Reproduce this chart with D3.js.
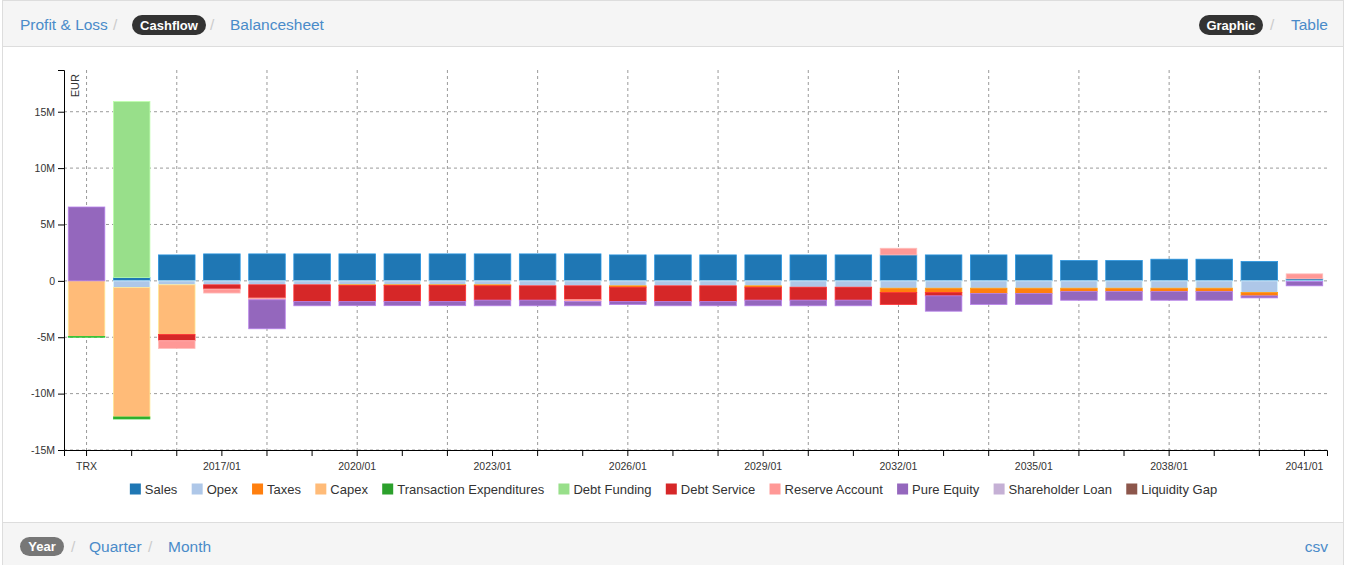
<!DOCTYPE html>
<html>
<head>
<meta charset="utf-8">
<script src="https://cdn.jsdelivr.net/npm/d3@7"></script>
<style>
body { margin: 0; background: #fff; }
svg text { font-family: "Liberation Sans", Arial, sans-serif; }
.grid line { stroke: #9a9a9a; stroke-dasharray: 3,3; }
.axis path, .axis line { stroke: #000; }
.axis text { fill: #333; font-size: 10.5px; }
.nav { font-size: 15.5px; fill: #4a8bc9; }
.sep { font-size: 15.5px; fill: #ccc; }
.pill { font-size: 13px; font-weight: bold; fill: #fff; }
.legend text { font-size: 13px; fill: #333; }
</style>
</head>
<body>
<svg id="chart" width="1345" height="565"></svg>
<script>
// periods on the x axis
const periods = ['TRX', '2015/01', '2016/01', '2017/01', '2018/01', '2019/01', '2020/01',
    '2021/01', '2022/01', '2023/01', '2024/01', '2025/01', '2026/01', '2027/01', '2028/01',
    '2029/01', '2030/01', '2031/01', '2032/01', '2033/01', '2034/01', '2035/01', '2036/01',
    '2037/01', '2038/01', '2039/01', '2040/01', '2041/01']

// values in million EUR, one per period
const sales = [0, 0.3, 2.3, 2.39, 2.39, 2.39, 2.39, 2.39, 2.39, 2.39, 2.39, 2.39, 2.3, 2.3,
    2.3, 2.3, 2.3, 2.3, 2.3, 2.3, 2.3, 2.3, 1.8, 1.8, 1.92, 1.92, 1.71, 0.18]
const opex = [0, -0.6, -0.35, -0.35, -0.35, -0.35, -0.35, -0.35, -0.35, -0.35, -0.44, -0.44,
    -0.44, -0.44, -0.44, -0.44, -0.56, -0.56, -0.65, -0.65, -0.65, -0.65, -0.65, -0.65, -0.65,
    -0.65, -1.03, -0.06]
const taxes = [0, 0, 0, 0, 0, 0, -0.05, -0.05, -0.05, -0.09, 0, 0, -0.12, 0, 0, -0.12, 0, 0,
    -0.38, -0.38, -0.47, -0.47, -0.3, -0.3, -0.3, -0.3, -0.3, 0]
const capex = [-4.93, -11.47, -4.4, 0, 0, 0, 0, 0, 0, 0, 0, 0, 0, 0, 0, 0, 0, 0, 0, 0, 0, 0,
    0, 0, 0, 0, 0, 0]
const transactionExp = [-0.07, -0.18, 0, 0, 0, 0, 0, 0, 0, 0, 0, 0, 0, 0, 0, 0, 0, 0, 0, 0,
    0, 0, 0, 0, 0, 0, 0, 0]
const debtFunding = [0, 15.6, 0, 0, 0, 0, 0, 0, 0, 0, 0, 0, 0, 0, 0, 0, 0, 0, 0, 0, 0, 0, 0,
    0, 0, 0, 0, 0]
const debtService = [0, 0, -0.56, -0.38, -1.18, -1.48, -1.42, -1.42, -1.42, -1.27, -1.27,
    -1.24, -1.27, -1.39, -1.39, -1.15, -1.15, -1.15, -1.06, -0.3, 0, 0, 0, 0, 0, 0, 0, 0]
const reserveAccount = [0, 0, -0.68, -0.35, -0.15, 0, 0, 0, 0, 0, 0, -0.15, 0, 0, 0, 0, 0, 0,
    0.59, 0, 0, 0, 0, 0, 0, 0, 0, 0.44]
const pureEquity = [6.55, 0, 0, 0, -2.57, -0.38, -0.38, -0.38, -0.38, -0.5, -0.5, -0.38,
    -0.27, -0.38, -0.38, -0.5, -0.5, -0.5, 0, -1.36, -0.97, -0.97, -0.77, -0.77, -0.77, -0.77,
    -0.18, -0.38]
const shareholderLoan = [0, 0, 0, 0, 0, 0, 0, 0, 0, 0, 0, 0, 0, 0, 0, 0, 0, 0, 0, 0, 0, 0, 0,
    0, 0, 0, 0, 0]
const liquidityGap = [0, 0, 0, 0, 0, 0, 0, 0, 0, 0, 0, 0, 0, 0, 0, 0, 0, 0, 0, 0, 0, 0, 0, 0,
    0, 0, 0, 0]

const seriesNames = ['Sales', 'Opex', 'Taxes', 'Capex', 'Transaction Expenditures',
    'Debt Funding', 'Debt Service', 'Reserve Account', 'Pure Equity', 'Shareholder Loan',
    'Liquidity Gap']
const seriesValues = [sales, opex, taxes, capex, transactionExp, debtFunding, debtService,
    reserveAccount, pureEquity, shareholderLoan, liquidityGap]
const colors = ['#1f77b4', '#aec7e8', '#ff7f0e', '#ffbb78', '#2ca02c', '#98df8a', '#d62728',
    '#ff9896', '#9467bd', '#c5b0d5', '#8c564b']
const yTicks = [-15e6, -10e6, -5e6, 0, 5e6, 10e6, 15e6]

const svg = d3.select('#chart')
const width = +svg.attr('width')
const height = +svg.attr('height')

// panel frame, header and footer
svg.append('rect').attr('x', 2.5).attr('y', 0.5).attr('width', width - 4).attr('height', height)
    .attr('fill', '#fff').attr('stroke', '#ddd')
svg.append('rect').attr('x', 2.5).attr('y', 0.5).attr('width', width - 4).attr('height', 46)
    .attr('fill', '#f5f5f5').attr('stroke', '#ddd')
svg.append('rect').attr('x', 2.5).attr('y', 522.5).attr('width', width - 4).attr('height', 50)
    .attr('fill', '#f5f5f5').attr('stroke', '#ddd')

function pill(x, y, w, h, label, fill) {
    svg.append('rect').attr('x', x).attr('y', y).attr('width', w).attr('height', h)
        .attr('rx', h / 2).attr('fill', fill)
    svg.append('text').attr('class', 'pill').attr('x', x + w / 2).attr('y', y + h / 2 + 4.5)
        .attr('text-anchor', 'middle').text(label)
}
function nav(x, y, label, anchor) {
    svg.append('text').attr('class', 'nav').attr('x', x).attr('y', y)
        .attr('text-anchor', anchor || 'start').text(label)
}
function sep(x, y) {
    svg.append('text').attr('class', 'sep').attr('x', x).attr('y', y).text('/')
}

nav(20, 30, 'Profit & Loss'); sep(113, 30)
pill(132, 15, 74, 20, 'Cashflow', '#333'); sep(210, 30)
nav(230, 30, 'Balancesheet')
pill(1199, 15, 64, 20, 'Graphic', '#333'); sep(1270, 30)
nav(1328, 30, 'Table', 'end')

pill(20, 537, 44, 19, 'Year', '#777'); sep(71, 552)
nav(89, 552, 'Quarter'); sep(148, 552)
nav(168, 552, 'Month')
nav(1328, 552, 'csv', 'end')

// chart area
const plotLeft = 64, plotRight = 1327, plotTop = 70, plotBottom = 450

const rows = periods.map((p, i) => {
    const r = { period: p }
    seriesNames.forEach((s, k) => { r[s] = seriesValues[k][i] * 1e6 })
    return r
})

const stacked = d3.stack().keys(seriesNames).offset(d3.stackOffsetDiverging)(rows)

const xScale = d3.scaleBand().domain(periods).range([plotLeft, plotRight])
    .paddingInner(0.19).paddingOuter(0.095)
const yScale = d3.scaleLinear().domain([-15e6, 18.7e6]).range([plotBottom, plotTop])
const color = d3.scaleOrdinal().domain(seriesNames).range(colors)
const fmt = v => v === 0 ? '0' : (v / 1e6) + 'M'

// grid
const grid = svg.append('g').attr('class', 'grid')
grid.selectAll('line.h').data(yTicks).enter().append('line').attr('class', 'h')
    .attr('x1', plotLeft).attr('x2', plotRight)
    .attr('y1', d => yScale(d)).attr('y2', d => yScale(d))
grid.selectAll('line.v').data(periods.filter((p, i) => i % 2 === 0)).enter()
    .append('line').attr('class', 'v')
    .attr('x1', d => xScale(d) + xScale.bandwidth() / 2)
    .attr('x2', d => xScale(d) + xScale.bandwidth() / 2)
    .attr('y1', plotTop).attr('y2', plotBottom)

// bars
const layers = svg.append('g').selectAll('g').data(stacked).enter().append('g')
    .attr('fill', d => color(d.key))
    .attr('stroke', d => d3.color(color(d.key)).brighter(0.6))
    .attr('stroke-width', 0.8)
layers.selectAll('rect').data(d => d.filter(e => e[1] !== e[0])).enter().append('rect')
    .attr('x', d => xScale(d.data.period))
    .attr('width', xScale.bandwidth())
    .attr('y', d => yScale(Math.max(d[0], d[1])))
    .attr('height', d => Math.abs(yScale(d[0]) - yScale(d[1])))

// axes
const xAxis = d3.axisBottom(xScale).tickFormat((d, i) => i % 3 === 0 ? d : '')
svg.append('g').attr('class', 'axis').attr('transform', `translate(0,${plotBottom})`).call(xAxis)
    .selectAll('text').attr('dy', '1.05em')
const yAxis = d3.axisLeft(yScale).tickValues(yTicks).tickFormat(fmt)
svg.append('g').attr('class', 'axis').attr('transform', `translate(${plotLeft},0)`).call(yAxis)

svg.append('text').attr('transform', `translate(${plotLeft + 14.5},${plotTop + 4}) rotate(-90)`)
    .attr('text-anchor', 'end').attr('font-size', '11px').attr('fill', '#333').text('EUR')

// legend, centred
const legend = svg.append('g').attr('class', 'legend')
const items = legend.selectAll('g').data(seriesNames).enter().append('g')
items.append('rect').attr('width', 11).attr('height', 11).attr('y', -5.5)
    .attr('fill', d => color(d))
items.append('text').attr('x', 15).attr('y', 4.5).text(d => d)
const gap = 14.3
let offset = 0
items.each(function () {
    const g = d3.select(this)
    g.attr('transform', `translate(${offset},0)`)
    offset += 15 + g.select('text').node().getComputedTextLength() + gap
})
offset -= gap
legend.attr('transform', `translate(${(width - offset) / 2 + 1},489)`)
</script>
</body>
</html>
